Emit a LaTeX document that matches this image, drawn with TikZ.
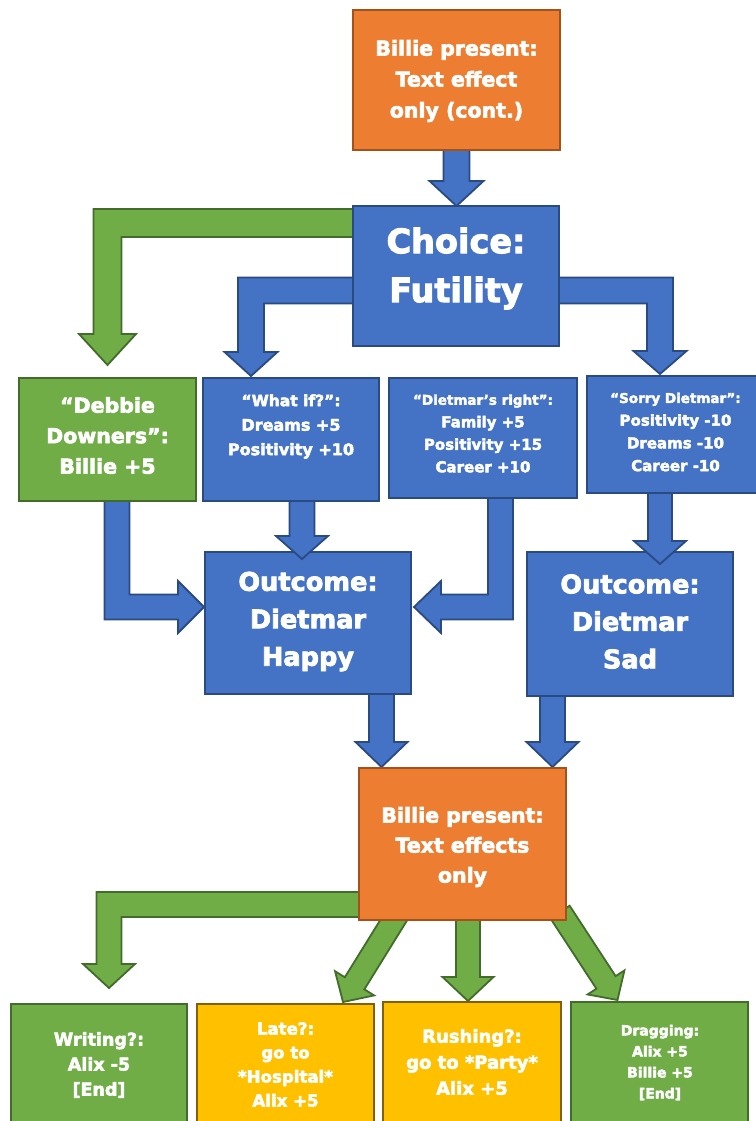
\documentclass[tikz,border=0pt]{standalone}
\usepackage{fontspec}
\setmainfont{DejaVu Sans}[BoldFont={DejaVu Sans Bold}, BoldFeatures={FakeBold=3}]
\usetikzlibrary{calc}

\definecolor{fblue}{HTML}{4472C4}
\definecolor{lblue}{HTML}{2A4A82}
\definecolor{forange}{HTML}{ED7D31}
\definecolor{lorange}{HTML}{A4521C}
\definecolor{fgreen}{HTML}{70AD47}
\definecolor{lgreen}{HTML}{436B2C}
\definecolor{fyellow}{HTML}{FFC000}
\definecolor{lyellow}{HTML}{806000}

\pgfdeclarelayer{arrows}
\pgfsetlayers{arrows,main}

% straight block arrow: style, start, tip, shaft half width, head half width, head length
\newcommand\straightblock[6]{%
  \path ($(#3)!#6!(#2)$) coordinate (sb-h);
  \filldraw[#1] ($(#2)!#4!90:(#3)$) -- ($(sb-h)!#4!90:(#3)$) -- ($(sb-h)!#5!90:(#3)$)
    -- (#3) -- ($(sb-h)!#5!-90:(#3)$) -- ($(sb-h)!#4!-90:(#3)$) -- ($(#2)!#4!-90:(#3)$) -- cycle;}

% right-angled block arrow: style, start, corner, tip, shaft half width, head half width, head length
\newcommand\elbowblock[7]{%
  \path ($(#3)!#5!(#2)$) coordinate (eb-cs)
        ($(#3)!#5!(#4)$) coordinate (eb-ct)
        ($(#4)!#7!(#3)$) coordinate (eb-h);
  \path ($(eb-h)+(#3)-(eb-cs)$) coordinate (eb-ho)
        ($(eb-h)-(#3)+(eb-cs)$) coordinate (eb-hi);
  \filldraw[#1] ($(#2)-(eb-ct)+(#3)$) -- ($3*(#3)-(eb-cs)-(eb-ct)$) -- (eb-ho)
    -- ($(eb-h)!#6!(eb-ho)$) -- (#4) -- ($(eb-h)!#6!(eb-hi)$) -- (eb-hi)
    -- ($(eb-cs)+(eb-ct)-(#3)$) -- ($(#2)+(eb-ct)-(#3)$) -- cycle;}

\tikzset{
  box/.style={rectangle, line width=1.8pt, anchor=north west, inner sep=0pt, outer sep=0pt},
  bluebox/.style={box, fill=fblue, draw=lblue},
  orangebox/.style={box, fill=forange, draw=lorange},
  greenbox/.style={box, fill=fgreen, draw=lgreen},
  yellowbox/.style={box, fill=fyellow, draw=lyellow},
  lbl/.style={text=white, align=center, inner sep=0pt, font=\bfseries},
  bluearrow/.style={fill=fblue, draw=lblue, line width=1.8pt, line join=miter},
  greenarrow/.style={fill=fgreen, draw=lgreen, line width=1.8pt, line join=miter},
}

\begin{document}
\begin{tikzpicture}[x=1pt, y=-1pt]
\useasboundingbox (0,0) rectangle (755,1121);

% boxes
\node[orangebox, minimum width=207pt, minimum height=140pt] (top) at (353,10) {};
\node[bluebox, minimum width=206pt, minimum height=140pt] (choice) at (353,206) {};
\node[greenbox, minimum width=177pt, minimum height=123pt] (debbie) at (19,378) {};
\node[bluebox, minimum width=176pt, minimum height=123pt] (whatif) at (203,378) {};
\node[bluebox, minimum width=188pt, minimum height=120pt] (right) at (389,378) {};
\node[bluebox, minimum width=177pt, minimum height=117pt] (sorry) at (587,376) {};
\node[bluebox, minimum width=206pt, minimum height=142pt] (happy) at (205,552) {};
\node[bluebox, minimum width=206pt, minimum height=144pt] (sad) at (527,552) {};
\node[orangebox, minimum width=207pt, minimum height=152pt] (billie) at (359,768) {};
\node[greenbox, minimum width=176pt, minimum height=124pt] (writing) at (11,1004) {};
\node[yellowbox, minimum width=177pt, minimum height=124pt] (late) at (197,1004) {};
\node[yellowbox, minimum width=178pt, minimum height=126pt] (rushing) at (383,1002) {};
\node[greenbox, minimum width=177pt, minimum height=126pt] (dragging) at (571,1002) {};

% box texts
\node[lbl, font=\bfseries\fontsize{20.5}{31}\selectfont] (top-t) at (456.5,81) {Billie present:\\Text effect\\only (cont.)};
\node[lbl, font=\bfseries\fontsize{33.5}{49}\selectfont] (choice-t) at (456,268.5) {Choice:\\Futility};
\node[lbl, font=\bfseries\fontsize{20.5}{30.5}\selectfont] (debbie-t) at (107.5,435.5) {“Debbie\\Downers”:\\Billie +5};
\node[lbl, font=\bfseries\fontsize{16}{24.5}\selectfont] (whatif-t) at (291,426.5) {{\fontsize{15.5}{24.5}\selectfont “What if?”:}\\Dreams +5\\Positivity +10};
\node[lbl, font=\bfseries\fontsize{15}{22.5}\selectfont] (right-t) at (483,433.5) {{\fontsize{13.5}{22.5}\selectfont “Dietmar’s right”:}\\Family +5\\Positivity +15\\Career +10};
\node[lbl, font=\bfseries\fontsize{15}{22.7}\selectfont] (sorry-t) at (675.5,432) {{\fontsize{13.5}{22.7}\selectfont “Sorry Dietmar”:}\\Positivity -10\\Dreams -10\\Career -10};
\node[lbl, font=\bfseries\fontsize{25.6}{37.5}\selectfont] (happy-t) at (308,621.5) {Outcome:\\Dietmar\\Happy};
\node[lbl, font=\bfseries\fontsize{25.6}{37.5}\selectfont] (sad-t) at (630,621.5) {Outcome:\\Dietmar\\Sad};
\node[lbl, font=\bfseries\fontsize{20.5}{30}\selectfont] (billie-t) at (462.5,847) {Billie present:\\Text effects\\only};
\node[lbl, font=\bfseries\fontsize{17.5}{25}\selectfont] (writing-t) at (99,1065) {Writing?:\\Alix -5\\{[End]}};
\node[lbl, font=\bfseries\fontsize{16.6}{24}\selectfont] (late-t) at (285.5,1064.5) {Late?:\\go to\\*Hospital*\\Alix +5};
\node[lbl, font=\bfseries\fontsize{18}{26}\selectfont] (rushing-t) at (472,1062) {Rushing?:\\go to *Party*\\Alix +5};
\node[lbl, font=\bfseries\fontsize{14}{21}\selectfont] (dragging-t) at (660,1062.5) {Dragging:\\Alix +5\\Billie +5\\{[End]}};

% connector end points
\coordinate (a1s) at (top.south);
\coordinate (a1t) at (top.south |- choice.north);
\coordinate (a2s) at ($(choice.north west)+(0,17)$);
\coordinate (a2t) at ($(debbie.north)+(0,-13)$);
\coordinate (a2c) at (a2t |- a2s);
\coordinate (a3s) at ($(choice.north west)+(0,84.5)$);
\coordinate (a3t) at ($(whatif.north west)+(48,-2)$);
\coordinate (a3c) at (a3t |- a3s);
\coordinate (a4s) at ($(choice.north east)+(0,84.5)$);
\coordinate (a4t) at ($(sorry.north west)+(73,-2)$);
\coordinate (a4c) at (a4t |- a4s);
\coordinate (a5s) at ($(debbie.south west)+(98,0)$);
\coordinate (a5t) at ($(happy.north west)+(-1,55)$);
\coordinate (a5c) at (a5s |- a5t);
\coordinate (a6s) at ($(whatif.south west)+(99,0)$);
\coordinate (a6t) at ($(a6s |- happy.north)+(0,7)$);
\coordinate (a7s) at ($(right.south west)+(111.5,0)$);
\coordinate (a7t) at ($(happy.north east)+(3,55)$);
\coordinate (a7c) at (a7s |- a7t);
\coordinate (a8s) at ($(sorry.south west)+(73,0)$);
\coordinate (a8t) at ($(a8s |- sad.north)+(0,12)$);
\coordinate (a9s) at ($(happy.south west)+(176.5,0)$);
\coordinate (a9t) at ($(a9s |- billie.north)+(0,-1)$);
\coordinate (a10s) at ($(sad.south west)+(25.5,0)$);
\coordinate (a10t) at ($(a10s |- billie.north)+(0,-1)$);
\coordinate (a11s) at ($(billie.north west)+(0,136.5)$);
\coordinate (a11t) at ($(writing.north west)+(98,-16)$);
\coordinate (a11c) at (a11t |- a11s);
\coordinate (a12s) at ($(billie.south west)+(41,-10)$);
\coordinate (a12t) at ($(late.north west)+(146,-2)$);
\coordinate (a13s) at ($(billie.south west)+(109,0)$);
\coordinate (a13t) at ($(a13s |- rushing.north)+(0,-1)$);
\coordinate (a14s) at ($(billie.south east)+(-6,-8)$);
\coordinate (a14t) at ($(dragging.north west)+(46.5,-2)$);

% connectors that pass behind the boxes
\begin{pgfonlayer}{arrows}
\straightblock{bluearrow}{a1s}{a1t}{13pt}{27pt}{25pt}
\elbowblock{greenarrow}{a2s}{a2c}{a2t}{14pt}{28.5pt}{31pt}
\elbowblock{bluearrow}{a3s}{a3c}{a3t}{13pt}{26.5pt}{24pt}
\elbowblock{bluearrow}{a4s}{a4c}{a4t}{13pt}{26.5pt}{23pt}
\elbowblock{bluearrow}{a5s}{a5c}{a5t}{12.5pt}{26pt}{26pt}
\straightblock{bluearrow}{a9s}{a9t}{12.5pt}{26pt}{25pt}
\straightblock{bluearrow}{a10s}{a10t}{12.5pt}{26pt}{25pt}
\elbowblock{greenarrow}{a11s}{a11c}{a11t}{12.5pt}{26pt}{24pt}
\straightblock{greenarrow}{a12s}{a12t}{11.5pt}{23pt}{22pt}
\straightblock{greenarrow}{a13s}{a13t}{12pt}{25.5pt}{24pt}
\straightblock{greenarrow}{a14s}{a14t}{11.5pt}{22pt}{21pt}
\end{pgfonlayer}

% connectors whose heads overlap their target boxes
\straightblock{bluearrow}{a6s}{a6t}{12.5pt}{26pt}{23pt}
\elbowblock{bluearrow}{a7s}{a7c}{a7t}{12.5pt}{26pt}{27pt}
\straightblock{bluearrow}{a8s}{a8t}{12pt}{26pt}{23pt}
\end{tikzpicture}
\end{document}
